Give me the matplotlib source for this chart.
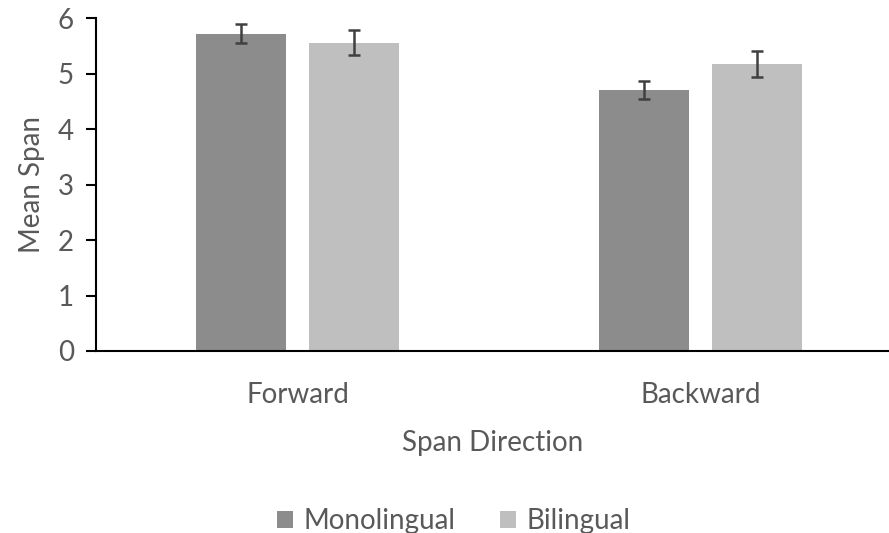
import matplotlib
matplotlib.use("Agg")
import matplotlib.pyplot as plt
import numpy as np

categories = ["Forward", "Backward"]
series = ["Monolingual", "Bilingual"]
mono_vals = [5.72, 4.70]
mono_err = [0.17, 0.16]
bi_vals = [5.56, 5.17]
bi_err = [0.23, 0.24]
yticks = [0, 1, 2, 3, 4, 5, 6]

plt.rcParams['font.family'] = ['Lato', 'DejaVu Sans']
text_color = '#595959'
fs = 20

fig = plt.figure(figsize=(8.89, 5.33), dpi=100)
ax = fig.add_axes([0.108, 0.3415, 0.892, 0.6245])

x = np.arange(len(categories))
w = 0.223
off = 0.141
ax.bar(x - off, mono_vals, w, color='#8c8c8c', label=series[0])
ax.bar(x + off, bi_vals, w, color='#bfbfbf', label=series[1])
ax.errorbar(x - off, mono_vals, yerr=mono_err, fmt='none', ecolor='#404040',
            elinewidth=1.8, capsize=4.5, capthick=1.8)
ax.errorbar(x + off, bi_vals, yerr=bi_err, fmt='none', ecolor='#404040',
            elinewidth=1.8, capsize=4.5, capthick=1.8)

ax.set_xlim(-0.5, 1.468)
ax.set_ylim(0, 6)
ax.set_yticks(yticks)
ax.set_yticklabels([str(t) for t in yticks], fontsize=fs, color=text_color)
ax.set_xticks(x)
ax.set_xticklabels(categories, fontsize=fs, color=text_color)
ax.tick_params(axis='x', length=0, pad=22)
ax.tick_params(axis='y', length=7, width=1.5, color='black', pad=9)

for s in ['top', 'right']:
    ax.spines[s].set_visible(False)
for s in ['left', 'bottom']:
    ax.spines[s].set_color('black')
    ax.spines[s].set_linewidth(1.5)

ax.set_ylabel("Mean Span", fontsize=fs, color=text_color, labelpad=9)
ax.set_xlabel("Span Direction", fontsize=fs, color=text_color, labelpad=16)

leg = fig.legend(loc='center', bbox_to_anchor=(0.51, 0.022), ncol=2, frameon=False,
                 fontsize=fs, handlelength=0.6, handleheight=0.6, handletextpad=0.35,
                 columnspacing=1.6)
for t in leg.get_texts():
    t.set_color(text_color)

fig.savefig("out.png", dpi=100)
